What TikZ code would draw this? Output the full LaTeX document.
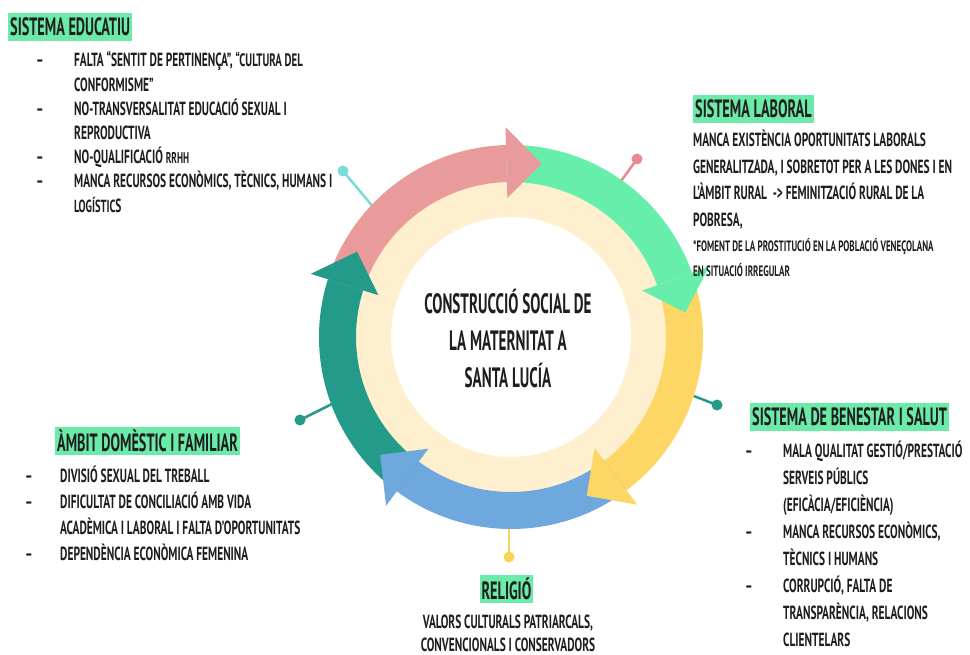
\documentclass[tikz,border=0pt]{standalone}
\usepackage{fontspec}
\setmainfont{PT Sans}[FakeStretch=0.54]
\newfontfamily\bodyf{PT Sans}[FakeStretch=0.6]
\newfontfamily\hdrf{PT Sans}[FakeStretch=0.57]
\definecolor{cpink}{HTML}{E99A9A}
\definecolor{cgreen}{HTML}{66EEAA}
\definecolor{cyellow}{HTML}{FDD666}
\definecolor{cblue}{HTML}{6FA8DC}
\definecolor{cteal}{HTML}{249A8A}
\definecolor{ccream}{HTML}{FEF0CF}
\definecolor{chl}{HTML}{6CEBA8}
\definecolor{ccyan}{HTML}{7ADCD6}
\definecolor{cpinkdot}{HTML}{E88B90}
\definecolor{cydot}{HTML}{F8D35A}
\definecolor{ctext}{HTML}{1E1E1E}
\newcommand{\smc}[2]{{\fontsize{#1}{20}\selectfont #2}}
\begin{document}
\begin{tikzpicture}[x=1pt,y=-1pt,
  txt/.style={inner sep=0pt, text=ctext},
  hdr/.style={fill=chl, inner xsep=2pt, inner ysep=0pt, minimum height=28pt, text=ctext, font=\hdrf\bfseries\fontsize{25}{28}\selectfont},
  dotc/.style={circle, inner sep=0pt, minimum size=11pt},
  pin/.style={line width=2.5pt}]
\useasboundingbox (0,0) rectangle (970,655);
\fill[white] (0,0) rectangle (970,655);

% pins
\node[dotc, fill=ccyan] (d1) at (343,171) {};
\coordinate (p1) at (374,208);
\draw[pin, ccyan] (d1.center) -- (p1);
\node[dotc, fill=cpinkdot] (d2) at (637,159) {};
\coordinate (p2) at (616,188);
\draw[pin, cpinkdot] (d2.center) -- (p2);
\node[dotc, fill=cteal] (d3) at (717,405) {};
\coordinate (p3) at (686,393);
\draw[pin, cteal] (d3.center) -- (p3);
\node[dotc, fill=cteal] (d4) at (300,420) {};
\coordinate (p4) at (332,404);
\draw[pin, cteal] (d4.center) -- (p4);
\node[dotc, fill=cydot] (d5) at (509,557) {};
\coordinate (p5) at (509,524);
\draw[pin, cydot] (d5.center) -- (p5);

% ring
\begin{scope}[shift={(511,337)}, y=1pt]
\fill[ccream, even odd rule] (0,0) circle[radius=158] (0,0) circle[radius=120];
% bodies
\fill[cpink] (162.5:155) arc[start angle=162.5, end angle=91.5, radius=155] -- (91.5:192) arc[start angle=91.5, end angle=162.5, radius=192] -- cycle;
\fill[cgreen] (91.5:155) arc[start angle=91.5, end angle=19.5, radius=155] -- (19.5:192) arc[start angle=19.5, end angle=91.5, radius=192] -- cycle;
\fill[cyellow] (19.5:155) arc[start angle=19.5, end angle=-53, radius=155] -- (-53:192) arc[start angle=-53, end angle=19.5, radius=192] -- cycle;
\fill[cblue] (-53:155) arc[start angle=-53, end angle=-126.5, radius=155] -- (-126.5:192) arc[start angle=-126.5, end angle=-53, radius=192] -- cycle;
\fill[cteal] (-126.5:155) arc[start angle=-126.5, end angle=-197.5, radius=155] -- (-197.5:192) arc[start angle=-197.5, end angle=-126.5, radius=192] -- cycle;
% heads
\fill[cpink] (91.5:139) -- (80:176) -- (91.5:210) -- cycle;
\fill[cgreen] (19.5:139) -- (8:176) -- (19.5:210) -- cycle;
\fill[cyellow] (-53:139) -- (-64.5:176) -- (-53:210) -- cycle;
\fill[cblue] (-126.5:139) -- (-138:176) -- (-126.5:210) -- cycle;
\fill[cteal] (162.5:139) -- (151:176) -- (162.5:210) -- cycle;
\end{scope}

% centre title
\node[txt, anchor=base, font=\bfseries\fontsize{28}{37}\selectfont] (title) at (508,313)
  {\begin{tabular}[t]{@{}c@{}}CONSTRUCCIÓ SOCIAL DE\\LA MATERNITAT A\\SANTA LUCÍA\end{tabular}};

% Sistema educatiu
\node[hdr, anchor=west] (h1) at (8,27) {SISTEMA EDUCATIU};
\node[txt, anchor=base west, font=\bodyf\bfseries\fontsize{19}{24.2}\selectfont] (b1) at (36,67)
  {\begin{tabular}[t]{@{}p{38pt}@{}l@{}}
  – & FALTA “SENTIT DE PERTINENÇA”, \smc{18}{“CULTURA DEL}\\
    & CONFORMISME”\\
  – & NO-TRANSVERSALITAT EDUCACIÓ SEXUAL I\\
    & REPRODUCTIVA\\
  – & NO-QUALIFICACIÓ \smc{15.5}{RRHH}\\
  – & MANCA RECURSOS ECONÒMICS,\ TÈCNICS, HUMANS I\\
    & \smc{17.5}{LOGÍSTIC}S
  \end{tabular}};

% Sistema laboral
\node[hdr, anchor=west] (h2) at (693,109) {SISTEMA LABORAL};
\node[txt, anchor=base west, font=\bodyf\bfseries\fontsize{19}{26.5}\selectfont] (b2) at (693,147)
  {\begin{tabular}[t]{@{}l@{}}
  MANCA EXISTÈNCIA OPORTUNITATS LABORALS\\
  GENERALITZADA, I SOBRETOT PER A LES DONES I EN\\
  L’ÀMBIT RURAL\ \ -> FEMINITZACIÓ RURAL DE LA\\
  POBRESA,
  \end{tabular}};
\node[txt, anchor=base west, font=\bodyf\bfseries\fontsize{15}{25}\selectfont] (b2s) at (693,252)
  {\begin{tabular}[t]{@{}l@{}}
  *FOMENT DE LA PROSTITUCIÓ EN LA POBLACIÓ VENEÇOLANA\\
  EN SITUACIÓ IRREGULAR
  \end{tabular}};

% Sistema de benestar i salut
\node[hdr, anchor=west] (h3) at (750,417) {SISTEMA DE BENESTAR I SALUT};
\node[txt, anchor=base west, font=\bodyf\bfseries\fontsize{19}{27.1}\selectfont] (b3) at (745,457)
  {\begin{tabular}[t]{@{}p{38pt}@{}l@{}}
  – & MALA QUALITAT GESTIÓ/PRESTACIÓ\\
    & SERVEIS PÚBLICS\\
    & (EFICÀCIA/EFICIÈNCIA)\\
  – & MANCA RECURSOS ECONÒMICS,\\
    & TÈCNICS I HUMANS\\
  – & CORRUPCIÓ, FALTA DE\\
    & TRANSPARÈNCIA, RELACIONS\\
    & CLIENTELARS
  \end{tabular}};

% Ambit domestic i familiar
\node[hdr, anchor=west] (h4) at (55,441) {ÀMBIT DOMÈSTIC I FAMILIAR};
\node[txt, anchor=base west, font=\bodyf\bfseries\fontsize{19}{26}\selectfont] (b4) at (25,482)
  {\begin{tabular}[t]{@{}p{35pt}@{}l@{}}
  – & DIVISIÓ SEXUAL DEL TREBALL\\
  – & DIFICULTAT DE CONCILIACIÓ AMB VIDA\\
    & ACADÈMICA I LABORAL I FALTA D’OPORTUNITATS\\
  – & DEPENDÈNCIA ECONÒMICA FEMENINA
  \end{tabular}};

% Religio
\node[hdr] (h5) at (506.5,589) {RELIGIÓ};
\node[txt, anchor=base, font=\bodyf\bfseries\fontsize{19}{23}\selectfont] (b5) at (508,628)
  {\begin{tabular}[t]{@{}c@{}}
  VALORS CULTURALS PATRIARCALS,\\
  CONVENCIONALS I CONSERVADORS
  \end{tabular}};
\end{tikzpicture}
\end{document}
